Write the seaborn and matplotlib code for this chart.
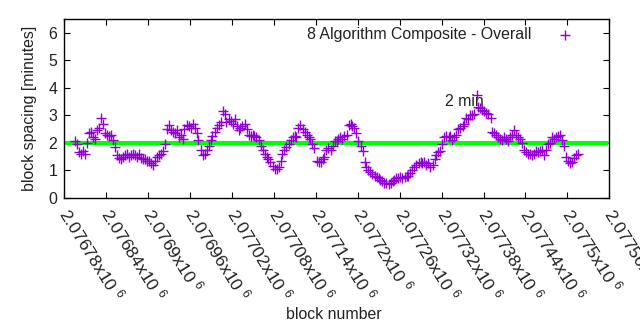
import numpy as np
import pandas as pd
import matplotlib
matplotlib.use("Agg")
import matplotlib.pyplot as plt
import seaborn as sns

# ---- data ----
first_block = 2076780
block_offsets = [
    15, 18, 21, 24, 27, 30, 32,
    35, 38, 41, 44, 47, 50, 52,
    55, 58, 61, 64, 67, 70, 72,
    75, 78, 81, 84, 87, 90, 92,
    95, 98, 101, 104, 107, 110, 112,
    115, 118, 121, 124, 127, 130, 132,
    135, 138, 141, 144, 147, 150, 152,
    155, 158, 161, 164, 167, 170, 172,
    175, 178, 181, 184, 187, 190, 192,
    195, 198, 201, 204, 207, 210, 212,
    215, 218, 221, 224, 227, 230, 232,
    235, 238, 241, 244, 247, 250, 252,
    255, 258, 261, 264, 267, 270, 272,
    275, 278, 281, 284, 287, 290, 292,
    295, 298, 301, 304, 307, 310, 312,
    315, 318, 321, 324, 327, 330, 332,
    335, 338, 341, 344, 347, 350, 352,
    355, 358, 361, 364, 367, 370, 372,
    375, 378, 381, 384, 387, 390, 392,
    395, 398, 401, 404, 407, 410, 412,
    415, 418, 421, 424, 427, 430, 432,
    435, 438, 441, 444, 447, 450, 452,
    455, 458, 461, 464, 467, 470, 472,
    475, 478, 481, 484, 487, 490, 492,
    495, 498, 501, 504, 507, 510, 512,
    515, 518, 521, 524, 527, 530, 532,
    535, 538, 541, 544, 547, 550, 552,
    555, 558, 561, 564, 567, 570, 572,
    575, 578, 581, 584, 587, 590, 592,
    595, 598, 601, 604, 607, 610, 612,
    615, 618, 621, 624, 627, 630, 632,
    635, 638, 641, 644, 647, 650, 652,
    655, 658, 661, 664, 667, 670, 672,
    675, 678, 681, 684, 687, 690, 692,
    695, 698, 701, 704, 707, 710, 712,
    715, 718, 721, 724, 727, 730, 732,
    735,
]
spacing_minutes = [
    2.05, 1.95, 1.65, 1.6, 1.7, 1.6, 2.0,
    2.35, 2.4, 2.2, 2.15, 2.45, 2.55, 2.9,
    2.7, 2.35, 2.3, 2.25, 2.3, 2.1, 1.85,
    1.55, 1.45, 1.4, 1.5, 1.55, 1.6, 1.5,
    1.55, 1.6, 1.55, 1.5, 1.6, 1.45, 1.4,
    1.4, 1.35, 1.35, 1.25, 1.2, 1.35, 1.5,
    1.55, 1.6, 1.7, 1.95, 2.5, 2.65, 2.45,
    2.4, 2.35, 2.45, 2.2, 2.3, 2.15, 2.5,
    2.65, 2.6, 2.55, 2.7, 2.55, 2.35, 2.1,
    1.75, 1.55, 1.6, 1.75, 1.9, 2.1, 2.25,
    2.4, 2.55, 2.65, 2.75, 3.15, 3.05, 2.75,
    2.85, 2.8, 2.7, 2.85, 2.6, 2.45, 2.55,
    2.6, 2.7, 2.5, 2.3, 2.25, 2.3, 2.25,
    2.2, 2.1, 1.9, 1.75, 1.6, 1.5, 1.4,
    1.3, 1.15, 1.05, 1.05, 1.1, 1.35, 1.6,
    1.75, 1.85, 1.95, 2.1, 2.2, 2.25, 2.2,
    2.55, 2.65, 2.5, 2.4, 2.3, 2.2, 2.15,
    1.95, 1.8, 1.35, 1.3, 1.3, 1.4, 1.5,
    1.75, 1.8, 1.75, 1.9, 2.05, 2.05, 2.15,
    2.2, 2.15, 2.25, 2.3, 2.65, 2.7, 2.6,
    2.55, 2.35, 2.05, 1.9, 1.7, 1.3, 1.1,
    1.0, 0.95, 0.85, 0.8, 0.75, 0.7, 0.65,
    0.6, 0.55, 0.55, 0.5, 0.55, 0.6, 0.65,
    0.7, 0.7, 0.75, 0.7, 0.75, 0.8, 0.8,
    0.9, 1.0, 1.1, 1.2, 1.25, 1.3, 1.25,
    1.3, 1.2, 1.25, 1.1, 1.2, 1.4, 1.55,
    1.65, 1.7, 1.95, 2.2, 2.25, 2.2, 2.25,
    2.1, 2.2, 2.3, 2.5, 2.55, 2.6, 2.7,
    2.9, 2.85, 3.0, 3.0, 3.05, 3.75, 3.3,
    3.25, 3.2, 3.15, 3.1, 3.05, 2.9, 2.4,
    2.35, 2.3, 2.2, 2.15, 2.1, 2.2, 2.15,
    2.05, 2.2, 2.3, 2.45, 2.3, 2.2, 2.15,
    2.0, 1.75, 1.65, 1.6, 1.6, 1.55, 1.6,
    1.7, 1.65, 1.7, 1.75, 1.55, 1.75, 1.95,
    2.0, 2.2, 2.15, 2.2, 2.25, 2.3, 2.1,
    1.9, 1.5, 1.35, 1.25, 1.3, 1.45, 1.55,
    1.6,
]
target_minutes = 2
series_label = "8 Algorithm Composite - Overall"
annotation_text = "2 min"
annotation_pos = (2077353, 3.5)
x_ticks = [2076780, 2076840, 2076900, 2076960, 2077020, 2077080, 2077140,
           2077200, 2077260, 2077320, 2077380, 2077440, 2077500, 2077560]
y_ticks = [0, 1, 2, 3, 4, 5, 6]

df = pd.DataFrame({
    "block": [first_block + o for o in block_offsets],
    "spacing": spacing_minutes,
})

sns.set_theme(style="white")
plt.rcParams["font.family"] = ["Liberation Sans", "DejaVu Sans"]
plt.rcParams["mathtext.fontset"] = "custom"
plt.rcParams["mathtext.rm"] = "Liberation Sans"
plt.rcParams["mathtext.it"] = "Liberation Sans"

fs = 11.4
fig = plt.figure(figsize=(6.4, 3.3), dpi=100)
ax = fig.add_axes([0.1005, 0.401, 0.8515, 0.5405])

ax.axhline(target_minutes, xmin=0.004, xmax=0.996, color="#00ff00", lw=3.0, zorder=1)
sns.scatterplot(data=df, x="block", y="spacing", ax=ax, marker="+", color="#9400d3",
                s=55, linewidth=1.0, label=series_label, zorder=3)

ax.set_xlim(x_ticks[0], x_ticks[-1])
ax.set_ylim(0, 6.5)
ax.set_yticks(y_ticks)
ax.set_yticklabels([str(v) for v in y_ticks], fontsize=fs, color="#222222")
ax.set_xticks(x_ticks)
ax.set_xticklabels(["%gx10 $^{6}$" % (v / 1e6) for v in x_ticks], fontsize=12.6,
                   rotation=-58, ha="left", va="center", rotation_mode="anchor",
                   color="#222222")
ax.tick_params(axis="both", direction="in", length=4.5, width=0.8, color="black",
               top=True, right=True, bottom=True, left=True, pad=5)
ax.tick_params(axis="x", pad=9)
for sp in ax.spines.values():
    sp.set_color("black")
    sp.set_linewidth(1.0)

ax.set_xlabel("block number", fontsize=fs, color="#222222")
ax.xaxis.set_label_coords(0.494, -0.615)
ax.set_ylabel("block spacing [minutes]", fontsize=fs, color="#222222", labelpad=8)

ax.text(annotation_pos[0], annotation_pos[1], annotation_text, fontsize=fs,
        ha="center", va="center", color="#222222", zorder=2)

leg = ax.legend(loc="upper right", bbox_to_anchor=(0.965, 1.01), frameon=False,
                markerfirst=False, fontsize=fs, handletextpad=1.1, borderaxespad=0.2)
for t in leg.get_texts():
    t.set_color("#222222")

fig.savefig("out.png", dpi=100)
